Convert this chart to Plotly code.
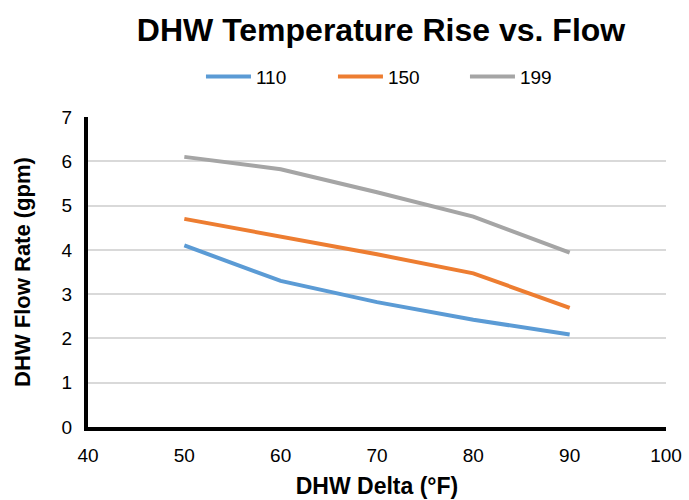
import plotly.graph_objects as go

# Temperature rise (°F) and flow rate (gpm) per model
delta_f = [50, 60, 70, 80, 90]
series_names = ["110", "150", "199"]
flow_110 = [4.1, 3.3, 2.82, 2.42, 2.09]
flow_150 = [4.7, 4.3, 3.9, 3.47, 2.69]
flow_199 = [6.1, 5.82, 5.3, 4.75, 3.94]
colors = ["#5B9BD5", "#ED7D31", "#A5A5A5"]

fig = go.Figure()
for name, ys, c in zip(series_names, [flow_110, flow_150, flow_199], colors):
    fig.add_trace(go.Scatter(
        x=delta_f, y=ys, name=name, mode="lines",
        line=dict(color=c, width=4),
    ))

font_family = "Liberation Sans, Arial, sans-serif"
tick_font = dict(family=font_family, size=19, color="black")
fig.update_layout(
    width=689, height=500,
    margin=dict(l=88, r=23, t=117, b=73),
    paper_bgcolor="white", plot_bgcolor="white",
    font=dict(family=font_family, size=19, color="black"),
    title=dict(text="<b>DHW Temperature Rise vs. Flow</b>",
               xref="paper", x=0.507, xanchor="center",
               y=0.94, yanchor="middle",
               font=dict(size=32, color="black")),
    legend=dict(orientation="h", x=0.538, xanchor="center",
                y=1.13, yanchor="middle", font=dict(size=19),
                itemwidth=45, entrywidth=72, entrywidthmode="pixels",
                traceorder="normal"),
    showlegend=True,
)
fig.update_xaxes(
    range=[40, 100], dtick=10, tick0=40,
    showgrid=False, zeroline=False,
    showline=True, linecolor="black", linewidth=4,
    ticks="", ticklabelstandoff=8, tickfont=tick_font,
    automargin=False,
    title=dict(text="<b>DHW Delta (°F)</b>", font=dict(size=23), standoff=14),
)
fig.update_yaxes(
    range=[0, 7], dtick=1,
    showgrid=True, gridcolor="#D9D9D9", gridwidth=1.5,
    zeroline=False,
    showline=True, linecolor="black", linewidth=4,
    ticks="", ticklabelstandoff=8, tickfont=tick_font,
    automargin=False,
    title=dict(text="<b>DHW Flow Rate (gpm)</b>", font=dict(size=22), standoff=26),
)

fig.write_html("out.html")
